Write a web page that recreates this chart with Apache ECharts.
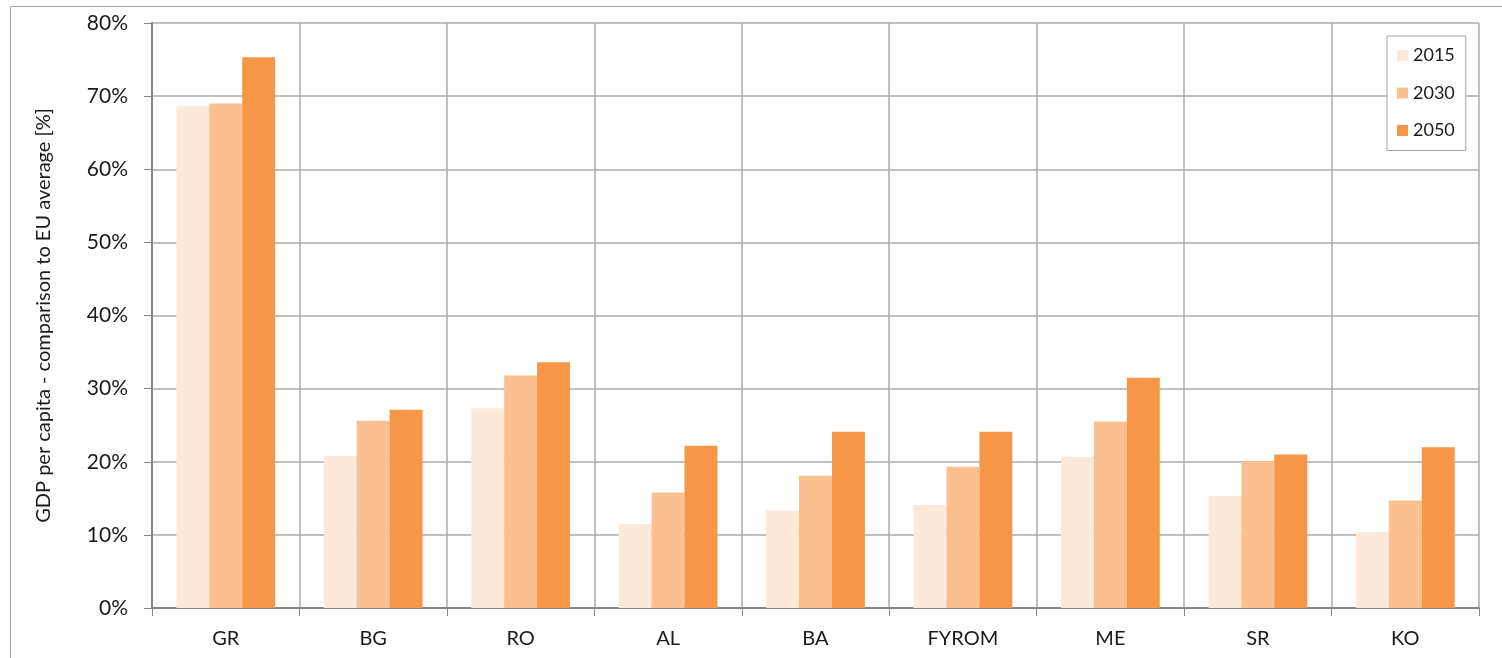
<!DOCTYPE html>
<html>
<head>
<meta charset="utf-8">
<style>
  html, body { margin: 0; padding: 0; background: #ffffff; }
  #chart { width: 1502px; height: 658px; }
</style>
<script src="https://cdn.jsdelivr.net/npm/echarts@6/dist/echarts.min.js"></script>
</head>
<body>
<div id="chart"></div>
<script>
// Countries along the x axis
const countries = ['GR', 'BG', 'RO', 'AL', 'BA', 'FYROM', 'ME', 'SR', 'KO'];

// GDP per capita relative to the EU average, in percent
const years = ['2015', '2030', '2050'];
const gdp2015 = [68.6, 20.8, 27.3, 11.5, 13.3, 14.1, 20.7, 15.3, 10.4];
const gdp2030 = [69.0, 25.6, 31.8, 15.8, 18.1, 19.3, 25.5, 20.1, 14.7];
const gdp2050 = [75.3, 27.1, 33.6, 22.2, 24.1, 24.1, 31.5, 21.0, 22.0];

// Y axis range and step
const yMin = 0, yMax = 80, yStep = 10;

const seriesValues = [gdp2015, gdp2030, gdp2050];
const palette = ['#FDE9D9', '#FAC090', '#F79646'];

const FONT = 'Lato, "Open Sans", sans-serif';
const chart = echarts.init(document.getElementById('chart'), null, { renderer: 'canvas' });

chart.setOption({
  backgroundColor: '#ffffff',
  animation: false,
  textStyle: { fontFamily: FONT, color: '#1a1a1a' },
  graphic: [{
    type: 'rect',
    shape: { x: 10.5, y: 6.5, width: 1600, height: 700 },
    style: { fill: 'none', stroke: '#a6a6a6', lineWidth: 1 },
    silent: true,
    z: -1
  }],
  grid: { left: 152, right: 23, top: 23, bottom: 50, containLabel: false },
  legend: {
    orient: 'vertical',
    left: 1387,
    top: 36,
    data: years,
    itemWidth: 11,
    itemHeight: 11,
    itemGap: 19.5,
    padding: [10.5, 11, 11, 10],
    borderColor: '#a6a6a6',
    borderWidth: 1,
    backgroundColor: '#ffffff',
    icon: 'rect',
    textStyle: { fontFamily: FONT, fontSize: 18, color: '#1a1a1a', lineHeight: 18 }
  },
  xAxis: {
    type: 'category',
    data: countries,
    boundaryGap: true,
    axisLine: { show: true, lineStyle: { color: '#868686', width: 2 } },
    axisTick: { show: true, length: 8, lineStyle: { color: '#868686', width: 1 } },
    axisLabel: { fontFamily: FONT, fontSize: 20, color: '#1a1a1a', margin: 21 },
    splitLine: { show: true, lineStyle: { color: '#ababab', width: 1.5 } }
  },
  yAxis: {
    type: 'value',
    min: yMin,
    max: yMax,
    interval: yStep,
    name: 'GDP per capita - comparison to EU average [%]',
    nameLocation: 'middle',
    nameGap: 98,
    nameTextStyle: { fontFamily: FONT, fontSize: 20, color: '#1a1a1a' },
    axisLine: { show: true, lineStyle: { color: '#868686', width: 2 } },
    axisTick: { show: true, inside: false, length: 8, lineStyle: { color: '#868686', width: 1 } },
    axisLabel: { fontFamily: FONT, fontSize: 21, color: '#1a1a1a', margin: 24, formatter: '{value}%' },
    splitLine: { show: true, lineStyle: { color: '#ababab', width: 1.5 } }
  },
  series: years.map((y, i) => ({
    name: y,
    type: 'bar',
    data: seriesValues[i],
    barGap: '0%',
    barCategoryGap: '33%',
    itemStyle: { color: palette[i] }
  }))
});
</script>
</body>
</html>
